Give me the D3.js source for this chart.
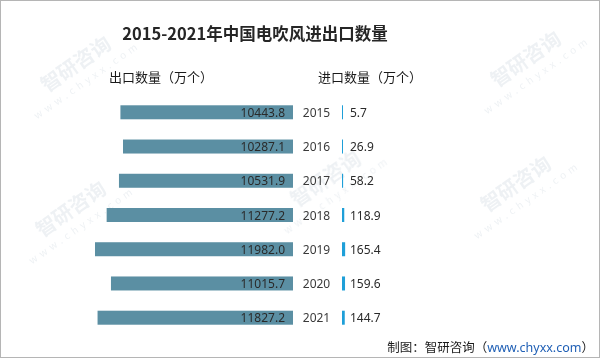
<!DOCTYPE html>
<html><head><meta charset="utf-8">
<script src="https://cdn.jsdelivr.net/npm/d3@7"></script>
<style>
html,body{margin:0;padding:0;background:#fff;}
svg{display:block;}
</style>
</head><body>
<svg id="c" width="600" height="358"></svg>
<script>
const years = ["2015","2016","2017","2018","2019","2020","2021"];
const exportVals = [10443.8, 10287.1, 10531.9, 11277.2, 11982.0, 11015.7, 11827.2];
const importVals = [5.7, 26.9, 58.2, 118.9, 165.4, 159.6, 144.7];
const title = "2015-2021年中国电吹风进出口数量";
const exportLabel = "出口数量（万个）";
const importLabel = "进口数量（万个）";

const svg = d3.select("#c");
const W = 600, H = 358;
const font = "'Noto Sans','Noto Sans CJK SC',sans-serif";

svg.append("rect").attr("x",0.5).attr("y",0.5).attr("width",W-1).attr("height",H-1)
  .attr("fill","#fff").attr("stroke","#b5b5b5");

// watermarks
const wm = svg.append("g").attr("fill","#d5dde4").attr("opacity",0.4).attr("font-family","'Noto Sans CJK SC',sans-serif");
[[80,70],[530,65],[520,190],[75,215],[330,185]].forEach(([x,y])=>{
  const g = wm.append("g").attr("transform",`translate(${x},${y}) rotate(-35)`);
  g.append("text").attr("font-size",20).attr("font-weight","bold").attr("text-anchor","middle").text("智研咨询");
  g.append("text").attr("y",16).attr("font-size",10).attr("letter-spacing",4).attr("text-anchor","middle").text("www.chyxx.com");
});

svg.append("text").attr("x",255).attr("y",40).attr("text-anchor","middle")
  .attr("font-family","'Noto Sans CJK SC',serif").attr("font-weight","bold").attr("font-size",16.5)
  .attr("fill","#262626").text(title);

svg.append("text").attr("x",109).attr("y",82).attr("font-family",font).attr("font-size",13)
  .attr("fill","#1a1a1a").text(exportLabel);
svg.append("text").attr("x",318).attr("y",82).attr("font-family",font).attr("font-size",13)
  .attr("fill","#1a1a1a").text(importLabel);

const y = d3.scaleBand().domain(years).range([95, 335]).paddingInner(0.59).paddingOuter(0.3);
const xe = d3.scaleLinear().domain([0, 12000]).range([293, 94.7]);
const xi = d3.scaleLinear().domain([0, 200]).range([342, 345.8]);
const bh = 14;

const rows = svg.append("g").selectAll("g").data(years).join("g");

rows.append("rect")
  .attr("x", (d,i)=>xe(exportVals[i]))
  .attr("y", d=>y(d)+y.bandwidth()/2-bh/2)
  .attr("width",(d,i)=>xe(0)-xe(exportVals[i]))
  .attr("height",bh)
  .attr("fill","#5b8fa3");

rows.append("text")
  .attr("x",285).attr("y",d=>y(d)+y.bandwidth()/2+4.5)
  .attr("text-anchor","end").attr("font-family",font).attr("font-size",12)
  .attr("fill","#2a2a2a").text((d,i)=>exportVals[i].toFixed(1));

rows.append("text")
  .attr("x",316.5).attr("y",d=>y(d)+y.bandwidth()/2+4.5)
  .attr("text-anchor","middle").attr("font-family",font).attr("font-size",12)
  .attr("fill","#3a3a3a").text(d=>d);

rows.append("rect")
  .attr("x", xi(0))
  .attr("y", d=>y(d)+y.bandwidth()/2-bh/2)
  .attr("width",(d,i)=>Math.max(1, xi(importVals[i])-xi(0)))
  .attr("height",bh)
  .attr("fill","#1e9fd8");

rows.append("text")
  .attr("x",350).attr("y",d=>y(d)+y.bandwidth()/2+4.5)
  .attr("font-family",font).attr("font-size",12)
  .attr("fill","#2a2a2a").text((d,i)=>importVals[i].toFixed(1));

const foot = svg.append("text").attr("x",594).attr("y",352).attr("text-anchor","end")
  .attr("font-family",font).attr("font-size",12.5).attr("fill","#1a1a1a");
foot.append("tspan").text("制图：智研咨询（");
foot.append("tspan").attr("fill","#1f5fb5").text("www.chyxx.com");
foot.append("tspan").text("）");
</script>
</body></html>
